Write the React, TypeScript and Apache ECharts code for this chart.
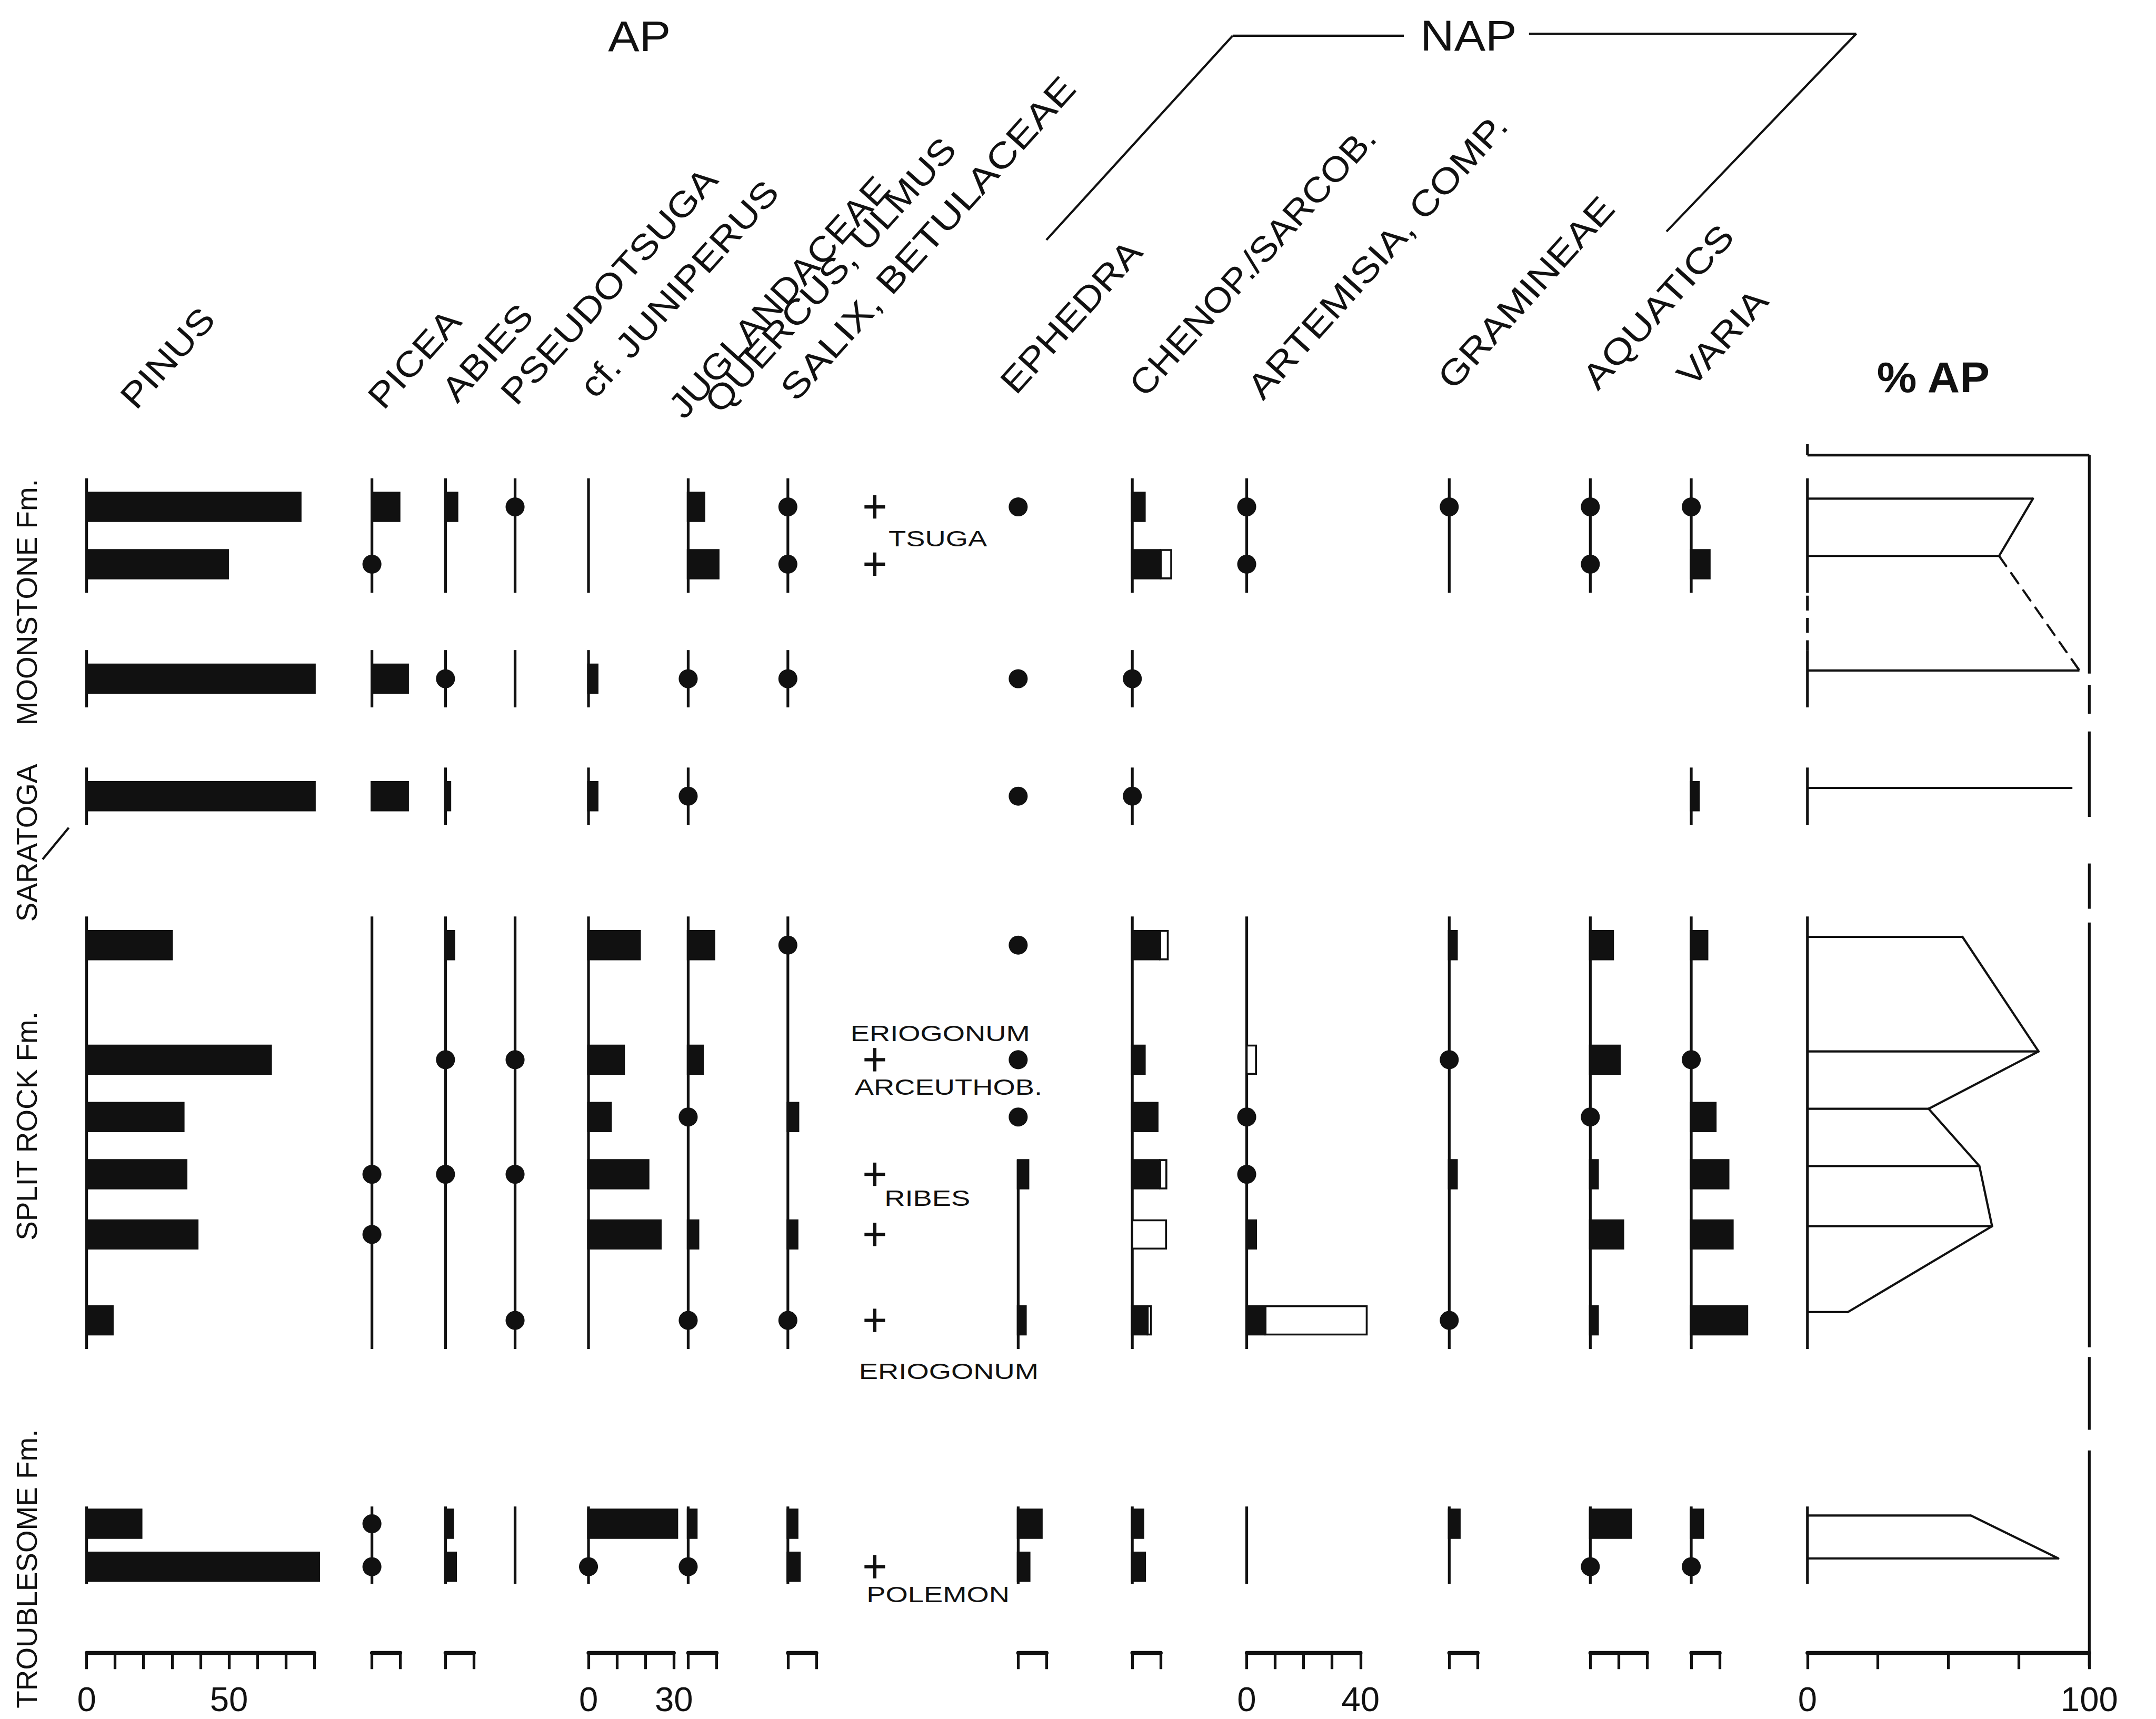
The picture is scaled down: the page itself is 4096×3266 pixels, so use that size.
import React, { useEffect, useRef } from "react";
import * as echarts from "echarts";

// ======================= DATA =======================
// stratigraphic position of each sample (arbitrary units, top = 0)
const sampleLevels = [0, 2, 6, 10.1, 15.3, 19.3, 21.3, 23.3, 25.4, 28.4, 35.5, 37];
const P = -1; // present, < 1 %  (drawn as a dot)
const N = null;

const pinus = [75.5, 50, 80.5, 80.5, 30.3, 65.1, 34.4, 35.4, 39.3, 9.5, 19.6, 82];
const picea = [10, P, 13, 13, N, N, N, P, P, N, P, P];
const abies = [4.5, N, P, 2, 3.4, P, N, P, N, N, 3, 4];
const pseudotsuga = [P, N, N, N, N, P, N, P, N, P, N, N];
const juniperus = [N, N, 3.5, 3.5, 18.4, 12.8, 8.2, 21.4, 25.7, N, 31.5, P];
const juglandaceae = [6, 11, P, P, 9.5, 5.5, P, N, 3.9, P, 3.3, P];
const salix = [P, P, P, N, P, N, 4, N, 3.7, P, 3.7, 4.5];
const ephedra = [P, N, P, P, P, P, P, 3.9, N, 3, 8.6, 4.3];
const chenop = [4.7, 10, P, P, 9.8, 4.7, 9.2, 9.8, N, 5.4, 4.2, 4.8];
const chenopTotal = [N, 14, N, N, 12.8, N, N, 12.3, 12.2, 6.9, N, N];
const artemisia = [P, P, N, N, N, N, P, P, 3.6, 6.6, N, N];
const artemisiaTotal = [N, N, N, N, N, 3.6, N, N, N, 42.5, N, N];
const gramineae = [P, N, N, N, 3, P, N, 3, N, P, 4, N];
const aquatics = [P, P, N, N, 8.3, 10.7, P, 3, 11.9, 3, 14.7, P];
const varia = [P, 6.8, N, 3, 6, P, 8.9, 13.4, 14.9, 20, 4.5, P];
const percentAP = [80, 68, 96.5, 94, 55, 82, 43, 61, 65.5, 14.3, 58, 89];
const apLinks = ["solid", "dashed", N, N, "solid", "solid", "solid", "solid", "solid", N, "solid", N];

const otherTaxaRows = [0, 1, 5, 7, 8, 9, 11];
const noteTexts = ["TSUGA", "ERIOGONUM", "ARCEUTHOB.", "RIBES", "ERIOGONUM", "POLEMON"];
const noteRows = [0, 5, 5, 7, 9, 11];

// rows [first, last] along which a taxon's base line is drawn
const ALL = [[0, 1], [2, 2], [3, 3], [4, 9], [10, 11]];
const NO_SAR = [[0, 1], [2, 2], [4, 9], [10, 11]];
const NAP3 = [[0, 1], [4, 9], [10, 11]];

const headerTexts = [
  "PINUS", "PICEA", "ABIES", "PSEUDOTSUGA", "cf. JUNIPERUS", "JUGLANDACEAE", "QUERCUS, ULMUS",
  "SALIX, BETULACEAE", "EPHEDRA", "CHENOP./SARCOB.", "ARTEMISIA, COMP.", "GRAMINEAE", "AQUATICS", "VARIA",
];
const formationTexts = ["MOONSTONE Fm.", "SARATOGA", "SPLIT ROCK Fm.", "TROUBLESOME Fm."];

// ======================= LAYOUT / STYLE =======================
const W = 4096;
const H = 3266;
const K = W / 1568; // reference px (as shown) -> window px
const FONT = "'Liberation Sans', Arial, Helvetica, sans-serif";
const INK = "#111111";

const LEVEL_MIN = -2;
const LEVEL_MAX = 40;
const GRID_TOP = 327 * K;
const GRID_H = 875 * K;
const PX_PER_PCT = 2.07;

const BAR_H = 22 * K;
const DOT_R = 6.9 * K;
const LW_BASE = 2.0 * K;
const LW_AXIS = 2.8 * K;
const LW_TICK = 2.0 * K;
const TICK_LEN = 12 * K;
const LW_OPEN = 1.4 * K;
const LW_AP = 1.6 * K;
const AP_DY = -6 * K;
const DASH = 9 * K;
const AXIS_FS = 25 * K;
const LABEL_MARGIN = 34 * K - AXIS_FS / 2;

const PLUS_W = 15 * K;
const PLUS_H = 17 * K;
const LW_PLUS = 2.4 * K;
const NOTE_FS = 16 * K;
const NOTE_SX = 1.3;
const NOTE_OFFSETS = [[10, 23], [-17.7, -19], [-14.6, 20], [7, 17.5], [-11.5, 37], [-6, 20]];

const HEADER_FS = 25.5 * K;
const HEADER_SX = [1.13, 1.13, 1.13, 1.13, 1.13, 1.1, 1.12, 1.2, 1.13, 1.08, 1.16, 1.16, 1.17, 1.13];
const HEADER_ANGLE = (48 * Math.PI) / 180;
const HEADER_POS = [
  [99, 299], [279, 299], [332.6, 294], [375.6, 296], [433, 291], [497.6, 306], [524, 302],
  [579, 293], [739, 288], [832.8, 290], [918.6, 292], [1057, 284.7], [1162, 284.7], [1231, 282.7],
];
const FORMATION_POS = [[19.5, 438], [19.5, 613], [19.5, 819], [19.5, 1141]];
const FORMATION_FS = 21 * K;
const TITLE_FS = 31 * K;

const AP_FRAME_TOP = -1.81;
const AP_FRAME_TICK = -2.19;
const AP_RIGHT_DASHES = [[-1.81, 5.82], [6.21, 7.22], [7.84, 10.82], [12.45, 14.03], [14.51, 29.34], [29.68, 32.22], [32.94, 40.48]];
const AP_LEFT_GAP = [3.1, 5.0];

const COLUMNS: any[] = [
  { x: 63, values: pinus, spans: ALL, max: 80, interval: 10, labels: [0, 50] },
  { x: 270.5, values: picea, spans: NO_SAR, max: 10 },
  { x: 324, values: abies, spans: ALL, max: 10 },
  { x: 374.6, values: pseudotsuga, spans: NO_SAR, max: 10, scale: false },
  { x: 428, values: juniperus, spans: ALL, max: 30, interval: 10, labels: [0, 30] },
  { x: 500.5, values: juglandaceae, spans: ALL, max: 10 },
  { x: 573, values: salix, spans: NO_SAR, max: 10 },
  { x: 636.2, kind: "notes", max: 10, scale: false },
  { x: 740.5, values: ephedra, spans: [[7, 9, 0.5], [10, 11]], max: 10 },
  { x: 823.5, values: chenop, totals: chenopTotal, spans: ALL, max: 10 },
  { x: 906.7, values: artemisia, totals: artemisiaTotal, spans: NAP3, max: 40, interval: 10, labels: [0, 40] },
  { x: 1054, values: gramineae, spans: NAP3, max: 10 },
  { x: 1156.6, values: aquatics, spans: NAP3, max: 20, interval: 10 },
  { x: 1230, values: varia, spans: [[0, 1], [3, 3], [4, 9], [10, 11]], max: 10 },
  { x: 1314.5, kind: "ap", values: percentAP, spans: ALL, max: 100, interval: 25, labels: [0, 100], ppp: 2.05 },
];

// ======================= RENDERERS =======================
function lineEl(x1: number, y1: number, x2: number, y2: number, lw: number, dash?: number[] | null) {
  return {
    type: "line",
    shape: { x1, y1, x2, y2 },
    style: { stroke: INK, lineWidth: lw, lineDash: dash || null, lineCap: "butt" },
  };
}

function baselineSeries(gi: number, spans: number[][]) {
  return {
    type: "custom",
    xAxisIndex: gi,
    yAxisIndex: gi,
    z: 2,
    silent: true,
    data: spans.map((s) => [0, sampleLevels[s[0]]]),
    encode: { x: 0, y: 1 },
    renderItem: (params: any, api: any) => {
      const s = spans[params.dataIndex];
      const a = s[0];
      const b = s[1];
      const ext = a >= 10 ? 0.6 : 1;
      const extTop = s.length > 2 ? s[2] : ext;
      const p1 = api.coord([0, sampleLevels[a] - extTop]);
      const p2 = api.coord([0, sampleLevels[b] + ext]);
      return lineEl(p1[0], p1[1], p2[0], p2[1], LW_BASE);
    },
  };
}

function marksSeries(gi: number, values: any[], totals?: any[]) {
  return {
    type: "custom",
    xAxisIndex: gi,
    yAxisIndex: gi,
    z: 3,
    silent: true,
    data: sampleLevels.map((L, i) => [typeof values[i] === "number" && values[i] > 0 ? values[i] : 0, L]),
    encode: { x: 0, y: 1 },
    renderItem: (params: any, api: any) => {
      const i = params.dataIndex;
      const L = api.value(1);
      const v = values[i];
      const t = totals ? totals[i] : null;
      const o = api.coord([0, L]);
      const kids: any[] = [];
      if (t != null) {
        const s = api.coord([typeof v === "number" && v > 0 ? v : 0, L]);
        const e = api.coord([t, L]);
        kids.push({
          type: "rect",
          shape: { x: s[0], y: o[1] - BAR_H / 2 + LW_OPEN / 2, width: e[0] - s[0] - LW_OPEN / 2, height: BAR_H - LW_OPEN },
          style: { fill: "#ffffff", stroke: INK, lineWidth: LW_OPEN },
        });
      }
      if (v === P) {
        kids.push({ type: "circle", shape: { cx: o[0], cy: o[1], r: DOT_R }, style: { fill: INK } });
      } else if (typeof v === "number" && v > 0) {
        const e = api.coord([v, L]);
        kids.push({
          type: "rect",
          shape: { x: o[0] - LW_BASE / 2, y: o[1] - BAR_H / 2, width: e[0] - o[0] + LW_BASE / 2, height: BAR_H },
          style: { fill: INK },
        });
      }
      return { type: "group", children: kids };
    },
  };
}

function plusSeries(gi: number) {
  return {
    type: "custom",
    xAxisIndex: gi,
    yAxisIndex: gi,
    z: 3,
    silent: true,
    data: otherTaxaRows.map((r) => [0, sampleLevels[r]]),
    encode: { x: 0, y: 1 },
    renderItem: (params: any, api: any) => {
      const c = api.coord([0, api.value(1)]);
      return {
        type: "group",
        children: [
          lineEl(c[0] - PLUS_W / 2, c[1], c[0] + PLUS_W / 2, c[1], LW_PLUS),
          lineEl(c[0], c[1] - PLUS_H / 2, c[0], c[1] + PLUS_H / 2, LW_PLUS),
        ],
      };
    },
  };
}

function notesSeries(gi: number) {
  return {
    type: "custom",
    xAxisIndex: gi,
    yAxisIndex: gi,
    z: 3,
    silent: true,
    data: noteRows.map((r) => [0, sampleLevels[r]]),
    encode: { x: 0, y: 1 },
    renderItem: (params: any, api: any) => {
      const i = params.dataIndex;
      const c = api.coord([0, api.value(1)]);
      const [dx, dy] = NOTE_OFFSETS[i];
      return {
        type: "text",
        x: c[0] + dx * K,
        y: c[1] + dy * K,
        scaleX: NOTE_SX,
        style: {
          text: noteTexts[i],
          fontSize: NOTE_FS,
          fontFamily: FONT,
          fill: INK,
          align: "left",
          verticalAlign: "middle",
          textAlign: "left",
          textVerticalAlign: "middle",
        },
      };
    },
  };
}

function apSeries(gi: number) {
  return {
    type: "custom",
    xAxisIndex: gi,
    yAxisIndex: gi,
    z: 3,
    silent: true,
    data: sampleLevels.map((L, i) => [percentAP[i], L]),
    encode: { x: 0, y: 1 },
    renderItem: (params: any, api: any) => {
      const i = params.dataIndex;
      const L = api.value(1);
      const a = api.coord([0, L]);
      const b = api.coord([api.value(0), L]);
      const kids: any[] = [lineEl(a[0], a[1] + AP_DY, b[0], b[1] + AP_DY, LW_AP)];
      const link = apLinks[i];
      if (link) {
        const c = api.coord([percentAP[i + 1], sampleLevels[i + 1]]);
        const el: any = lineEl(b[0], b[1] + AP_DY, c[0], c[1] + AP_DY, LW_AP, link === "dashed" ? [DASH, DASH * 0.7] : null);
        el.style.lineCap = "round";
        kids.push(el);
      }
      return { type: "group", children: kids };
    },
  };
}

function apFrameSeries(gi: number) {
  return {
    type: "custom",
    xAxisIndex: gi,
    yAxisIndex: gi,
    z: 2,
    silent: true,
    data: [[0, 0]],
    encode: { x: 0, y: 1 },
    renderItem: (params: any, api: any) => {
      const kids: any[] = [];
      const seg = (xa: number, ya: number, xb: number, yb: number, dash?: number[] | null) => {
        const p = api.coord([xa, ya]);
        const q = api.coord([xb, yb]);
        kids.push(lineEl(p[0], p[1], q[0], q[1], LW_BASE, dash));
      };
      seg(0, AP_FRAME_TICK, 0, AP_FRAME_TOP);
      seg(0, AP_FRAME_TOP, 100, AP_FRAME_TOP);
      AP_RIGHT_DASHES.forEach(([a, b]) => seg(100, a, 100, b));
      seg(0, AP_LEFT_GAP[0], 0, AP_LEFT_GAP[1], [DASH * 1.2, DASH * 0.6]);
      return { type: "group", children: kids };
    },
  };
}

function textEl(text: string, x: number, y: number, fs: number, extra: any = {}) {
  const { align, weight, ...rest } = extra;
  return {
    type: "text",
    x,
    y,
    silent: true,
    ...rest,
    style: {
      text,
      fontSize: fs,
      fontFamily: FONT,
      fontWeight: weight || "normal",
      fill: INK,
      align: align || "center",
      verticalAlign: "middle",
      textAlign: align || "center",
      textVerticalAlign: "middle",
    },
  };
}

function buildOption() {
  const grid: any[] = [];
  const xAxis: any[] = [];
  const yAxis: any[] = [];
  const series: any[] = [];

  COLUMNS.forEach((c, gi) => {
    const ppp = (c.ppp || PX_PER_PCT) * K;
    grid.push({ left: c.x * K, top: GRID_TOP, width: c.max * ppp, height: GRID_H, show: false });
    xAxis.push({
      gridIndex: gi,
      type: "value",
      min: 0,
      max: c.max,
      interval: c.interval || c.max,
      show: c.scale !== false,
      position: "bottom",
      axisLine: { show: true, onZero: false, lineStyle: { color: INK, width: LW_AXIS } },
      axisTick: { show: true, inside: false, length: TICK_LEN, lineStyle: { color: INK, width: LW_TICK } },
      axisLabel: {
        show: !!c.labels,
        margin: LABEL_MARGIN,
        fontSize: AXIS_FS,
        fontFamily: FONT,
        color: INK,
        formatter: (v: number) => (c.labels && c.labels.indexOf(v) >= 0 ? String(v) : ""),
      },
      splitLine: { show: false },
    });
    yAxis.push({ gridIndex: gi, type: "value", inverse: true, min: LEVEL_MIN, max: LEVEL_MAX, show: false });

    if (c.kind === "notes") {
      series.push(plusSeries(gi));
      series.push(notesSeries(gi));
      return;
    }
    series.push(baselineSeries(gi, c.spans));
    if (c.kind === "ap") {
      series.push(apFrameSeries(gi));
      series.push(apSeries(gi));
    } else {
      series.push(marksSeries(gi, c.values, c.totals));
    }
  });

  const graphics: any[] = [];
  // column headers (rotated)
  const ux = -Math.sin(HEADER_ANGLE);
  const uy = -Math.cos(HEADER_ANGLE);
  headerTexts.forEach((t, i) => {
    const [bx, by] = HEADER_POS[i];
    const off = 0.3465 * HEADER_FS;
    graphics.push(
      textEl(t, bx * K + ux * off, by * K + uy * off, HEADER_FS, {
        rotation: HEADER_ANGLE,
        scaleX: HEADER_SX[i],
        align: "left",
      })
    );
  });
  // group titles
  graphics.push(textEl("AP", 465 * K, 26.5 * K, TITLE_FS, { scaleX: 1.1 }));
  graphics.push(textEl("NAP", 1068 * K, 26 * K, TITLE_FS, { scaleX: 1.1 }));
  graphics.push(textEl("% AP", 1406 * K, 274.4 * K, TITLE_FS, { scaleX: 1.05, weight: "bold" }));
  // NAP bracket
  const brk = [
    [761, 174.5, 896.5, 26],
    [896.5, 26, 1021, 26],
    [1112, 24.5, 1350, 24.5],
    [1350, 24.5, 1212, 168.4],
  ];
  brk.forEach(([a, b, c, d]) => graphics.push({ ...lineEl(a * K, b * K, c * K, d * K, 1.6 * K), silent: true }));
  // formation labels
  formationTexts.forEach((t, i) => {
    const [fx, fy] = FORMATION_POS[i];
    graphics.push(textEl(t, fx * K, fy * K, FORMATION_FS, { rotation: Math.PI / 2 }));
  });
  graphics.push({ ...lineEl(31 * K, 625 * K, 50 * K, 602 * K, 1.6 * K), silent: true });

  return {
    animation: false,
    backgroundColor: "#ffffff",
    textStyle: { fontFamily: FONT, color: INK },
    grid,
    xAxis,
    yAxis,
    series,
    graphic: { elements: graphics },
  };
}

export default function App() {
  const ref = useRef<HTMLDivElement>(null);
  useEffect(() => {
    const chart = echarts.init(ref.current as HTMLDivElement, null, { renderer: "svg" });
    chart.setOption(buildOption() as any);
    return () => chart.dispose();
  }, []);
  return (
    <div
      ref={ref}
      style={{ position: "fixed", left: 0, top: 0, width: W + "px", height: H + "px", background: "#ffffff" }}
    />
  );
}
